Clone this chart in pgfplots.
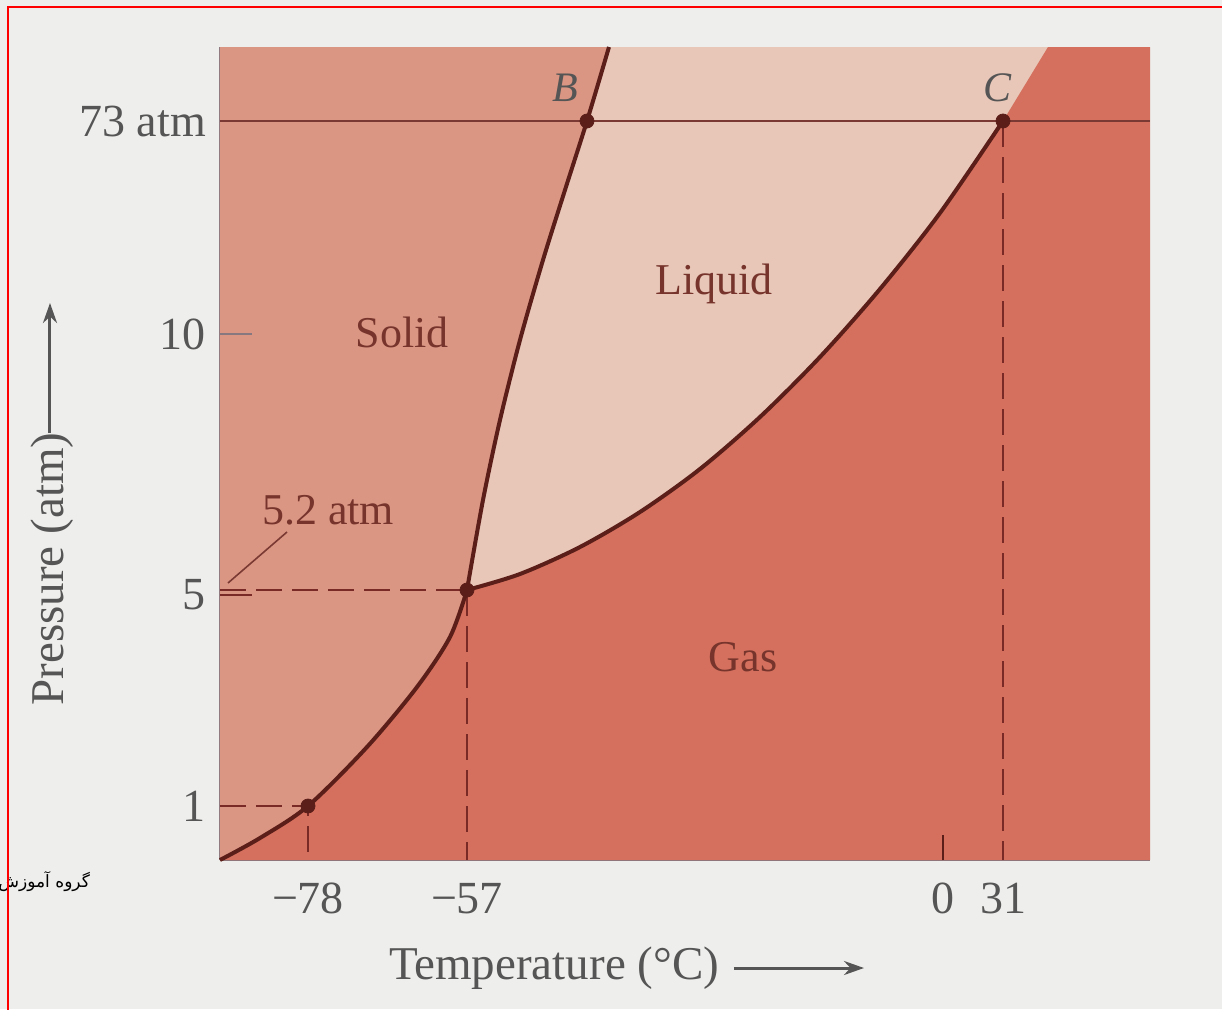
\documentclass[border=0pt]{standalone}
\usepackage{pgfplots}
\pgfplotsset{compat=1.18}
\usepackage{fontspec}
\setmainfont{Liberation Serif}
\newfontfamily\arabicfont[Script=Arabic]{DejaVu Sans}
\TeXXeTstate=1
\usetikzlibrary{arrows.meta}

\definecolor{bgc}{RGB}{238,238,236}
\definecolor{solidc}{RGB}{219,150,131}
\definecolor{liquidc}{RGB}{232,199,184}
\definecolor{gasc}{RGB}{212,112,93}
\definecolor{curvec}{RGB}{92,30,25}
\definecolor{dashc}{RGB}{122,42,38}
\definecolor{linec}{RGB}{122,58,51}
\definecolor{labc}{RGB}{118,52,44}
\definecolor{tickc}{RGB}{85,85,85}
\definecolor{axisc}{RGB}{135,120,128}

% schematic diagram: coordinates are positions on the figure, not real units
\begin{document}
\begin{tikzpicture}
\fill[bgc] (-110pt,-74.5pt) rectangle (501pt,430pt);
\begin{axis}[
  scale only axis, width=465pt, height=406.5pt,
  xmin=220, xmax=1150, ymin=149, ymax=962,
  axis lines*=left,
  axis line style={-, draw=axisc, line width=0.9pt},
  xtick={308,467,943,1003},
  xticklabels={−78,−57,0,31},
  ytick={203,414,675,888},
  yticklabels={1,5,10,73 atm},
  major tick length=0pt,
  tick label style={font=\fontsize{23}{27}\selectfont, text=tickc},
  xticklabel style={yshift=-8pt},
  yticklabel style={xshift=-3.5pt},
  clip=false,
]
% regions
\addplot[fill=liquidc, draw=none] coordinates {(220,149)(1150,149)(1150,962)(220,962)} -- cycle;
\addplot[fill=solidc, draw=none] coordinates {
  (220,962)(220,149)(260,171)(308,203)(367,262)(417,322)(450,372)(467,419)
  (483,509)(500,589)(520,669)(543,749)(565,819)(587,888)(609,962)} -- cycle;
\addplot[fill=gasc, draw=none] coordinates {
  (220,149)(260,171)(308,203)(367,262)(417,322)(450,372)(467,419)
  (520,435)(580,462)(640,497)(700,540)(760,592)(820,652)(880,720)(940,796)(1003,888)
  (1048,962)(1150,962)(1150,149)} -- cycle;

% 73 atm line and guide lines
\addplot[linec, line width=1pt] coordinates {(220,888)(1150,888)};
\addplot[dashc, line width=1pt, dash pattern=on 13pt off 5pt] coordinates {(220,203)(308,203)(308,149)};
\addplot[dashc, line width=1pt, dash pattern=on 13pt off 5pt] coordinates {(220,419)(467,419)};
\addplot[dashc, line width=1pt, dash pattern=on 13pt off 5pt] coordinates {(467,419)(467,149)};
\addplot[dashc, line width=1pt, dash pattern=on 13pt off 5pt] coordinates {(1003,888)(1003,149)};
\addplot[dashc, line width=1pt] coordinates {(220,414)(252,414)};
\addplot[axisc, line width=1pt] coordinates {(220,675)(252,675)};
\addplot[curvec, line width=1pt] coordinates {(943,149)(943,174)};
\addplot[linec, line width=0.8pt] coordinates {(228,426)(287,477)};

% phase boundaries
\addplot[curvec, line width=2pt, smooth] coordinates {
  (220,149)(260,171)(308,203)(367,262)(417,322)(450,372)(467,419)};
\addplot[curvec, line width=2pt, smooth] coordinates {
  (467,419)(483,509)(500,589)(520,669)(543,749)(565,819)(587,888)(609,962)};
\addplot[curvec, line width=2pt, smooth] coordinates {
  (467,419)(520,435)(580,462)(640,497)(700,540)(760,592)(820,652)(880,720)(940,796)(1003,888)};
\addplot[only marks, mark=*, mark size=3.5pt, curvec] coordinates {
  (308,203)(467,419)(587,888)(1003,888)};

% labels
\node[font=\fontsize{22}{25}\selectfont, text=labc] at (axis cs:402,677) {Solid};
\node[font=\fontsize{22}{25}\selectfont, text=labc] at (axis cs:714,725) {Liquid};
\node[font=\fontsize{22}{25}\selectfont, text=labc] at (axis cs:743,352) {Gas};
\node[font=\fontsize{22}{25}\selectfont, text=labc] at (axis cs:328,499) {5.2 atm};
\node[font=\fontsize{21}{24}\selectfont\itshape, text=tickc] at (axis cs:565,921) {B};
\node[font=\fontsize{21}{24}\selectfont\itshape, text=tickc] at (axis cs:998,921) {C};

\node[rotate=90, font=\fontsize{23.5}{27}\selectfont, text=tickc] at (axis cs:52,440) {Pressure (atm)};
\draw[-{Stealth[length=10pt,width=7pt]}, line width=1.5pt, tickc] (axis cs:50,576) -- (axis cs:50,706);
\node[font=\fontsize{23.5}{27}\selectfont, text=tickc] at (axis cs:554,41) {Temperature (°C)};
\draw[-{Stealth[length=10pt,width=7pt]}, line width=1.5pt, tickc] (axis cs:734,41) -- (axis cs:864,41);

\node[anchor=east, font=\arabicfont\fontsize{8.5}{10}\selectfont, text=black] at (axis cs:97,127) {\beginR گروه آموزش\endR};
\draw[red, line width=1pt] (axis cs:8,-20) -- (axis cs:8,1002) -- (axis cs:1240,1002);
\end{axis}
\pgfresetboundingbox
\useasboundingbox (-110pt,-74.5pt) rectangle (501pt,430pt);
\end{tikzpicture}
\end{document}
